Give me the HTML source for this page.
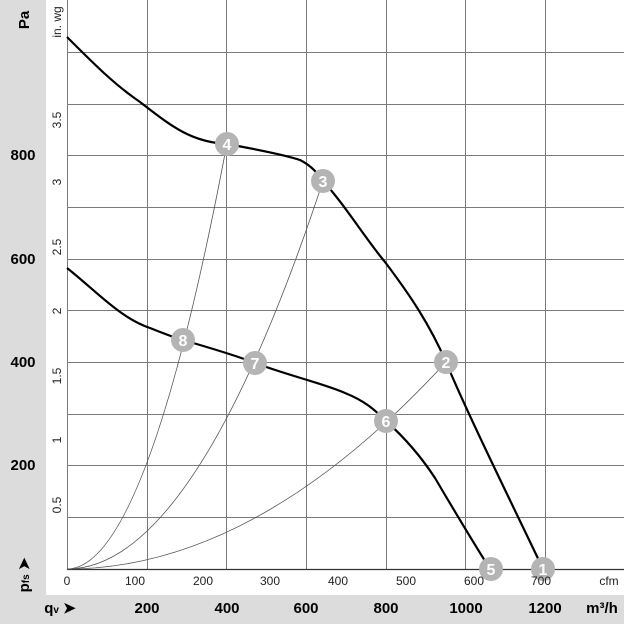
<!DOCTYPE html>
<html><head><meta charset="utf-8"><style>
html,body{margin:0;padding:0;background:#dcdcdc;}
svg{display:block;font-family:"Liberation Sans",Arial,sans-serif;}
</style></head><body>
<svg width="624" height="624" viewBox="0 0 624 624" xmlns="http://www.w3.org/2000/svg">
<rect x="0" y="0" width="624" height="624" fill="#dcdcdc"/>
<rect x="46" y="0" width="578" height="595" fill="#ffffff"/>
<g stroke="#7a7a7a" stroke-width="1">
<line x1="67.5" y1="0" x2="67.5" y2="569"/>
<line x1="147.5" y1="0" x2="147.5" y2="569"/>
<line x1="226.5" y1="0" x2="226.5" y2="569"/>
<line x1="306.5" y1="0" x2="306.5" y2="569"/>
<line x1="386.5" y1="0" x2="386.5" y2="569"/>
<line x1="465.5" y1="0" x2="465.5" y2="569"/>
<line x1="545.5" y1="0" x2="545.5" y2="569"/>
<line x1="67" y1="52.5" x2="624" y2="52.5"/>
<line x1="67" y1="104.5" x2="624" y2="104.5"/>
<line x1="67" y1="155.5" x2="624" y2="155.5"/>
<line x1="67" y1="207.5" x2="624" y2="207.5"/>
<line x1="67" y1="259.5" x2="624" y2="259.5"/>
<line x1="67" y1="310.5" x2="624" y2="310.5"/>
<line x1="67" y1="362.5" x2="624" y2="362.5"/>
<line x1="67" y1="414.5" x2="624" y2="414.5"/>
<line x1="67" y1="465.5" x2="624" y2="465.5"/>
<line x1="67" y1="517.5" x2="624" y2="517.5"/>
</g>
<line x1="67" y1="569.5" x2="624" y2="569.5" stroke="#333" stroke-width="1.2"/>
<g fill="none" stroke="#555" stroke-width="0.8">
<path d="M67 569 Q147 569 227 143"/>
<path d="M67 569 Q195 569 323 181"/>
<path d="M67 569 Q256 569 446 362"/>
</g>
<g fill="none" stroke="#000" stroke-width="2.2">
<path d="M67 37 C95 65 115 85 140 102 C170 125 190 142 227 144 C260 150 285 155 300 160 C312 166 318 174 323 181 C345 205 365 238 385 262 C410 295 430 325 446 362 C468 415 515 510 543 569"/>
<path d="M67 268 C95 290 120 318 150 328 C165 334 175 338 183 340 C210 348 235 355 255 363 C290 376 325 384 345 393 C365 401 375 410 386 421 C405 438 420 455 435 478 C455 512 475 545 490 569"/>
</g>
<g font-weight="bold" font-size="16" fill="#fff" text-anchor="middle">
<circle cx="543" cy="569" r="12" fill="#b4b4b4"/><text x="543" y="575">1</text>
<circle cx="446" cy="362" r="12" fill="#b4b4b4"/><text x="446" y="368">2</text>
<circle cx="323" cy="181" r="12" fill="#b4b4b4"/><text x="323" y="187">3</text>
<circle cx="227" cy="144" r="12" fill="#b4b4b4"/><text x="227" y="150">4</text>
<circle cx="491" cy="569" r="12" fill="#b4b4b4"/><text x="491" y="575">5</text>
<circle cx="386" cy="421" r="12" fill="#b4b4b4"/><text x="386" y="427">6</text>
<circle cx="255" cy="363" r="12" fill="#b4b4b4"/><text x="255" y="369">7</text>
<circle cx="183" cy="340" r="12" fill="#b4b4b4"/><text x="183" y="346">8</text>
</g>
<g font-weight="bold" font-size="15" fill="#000" text-anchor="middle">
<text x="23" y="160">800</text>
<text x="23" y="264">600</text>
<text x="23" y="367">400</text>
<text x="23" y="470">200</text>
<text transform="translate(29,20) rotate(-90)" text-anchor="middle">Pa</text>
<text transform="translate(29,575) rotate(-90)" text-anchor="middle">p<tspan font-size="10">fs</tspan> ➤</text>
</g>
<g font-size="12" fill="#222" text-anchor="middle">
<text transform="translate(61,505) rotate(-90)">0.5</text>
<text transform="translate(61,440) rotate(-90)">1</text>
<text transform="translate(61,376) rotate(-90)">1.5</text>
<text transform="translate(61,311) rotate(-90)">2</text>
<text transform="translate(61,247) rotate(-90)">2.5</text>
<text transform="translate(61,182) rotate(-90)">3</text>
<text transform="translate(61,120) rotate(-90)">3.5</text>
<text transform="translate(61,22) rotate(-90)">in. wg</text>
</g>
<g font-size="12" fill="#222" text-anchor="middle">
<text x="67" y="585">0</text>
<text x="135" y="585">100</text>
<text x="203" y="585">200</text>
<text x="270" y="585">300</text>
<text x="338" y="585">400</text>
<text x="406" y="585">500</text>
<text x="474" y="585">600</text>
<text x="541" y="585">700</text>
<text x="609" y="585">cfm</text>
</g>
<g font-weight="bold" font-size="15" fill="#000" text-anchor="middle">
<text x="60" y="613">q<tspan font-size="10">v</tspan> ➤</text>
<text x="147" y="613">200</text>
<text x="227" y="613">400</text>
<text x="306" y="613">600</text>
<text x="386" y="613">800</text>
<text x="466" y="613">1000</text>
<text x="545" y="613">1200</text>
<text x="602" y="613">m³/h</text>
</g>
</svg>
</body></html>
